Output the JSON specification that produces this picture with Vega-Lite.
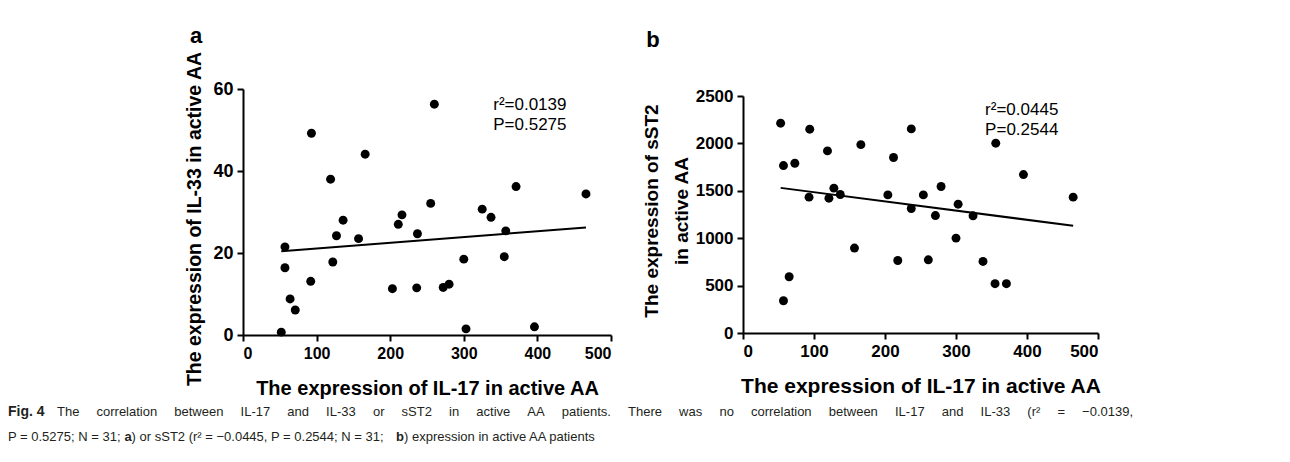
{
  "$schema": "https://vega.github.io/schema/vega-lite/v6.json",
  "background": "white",
  "padding": {"left": 8, "top": 25, "right": 5, "bottom": 5},
  "config": {
    "view": {"stroke": null},
    "font": "Liberation Sans",
    "axis": {
      "grid": false,
      "domainColor": "black",
      "domainWidth": 2,
      "tickColor": "black",
      "tickWidth": 2,
      "tickSize": 6,
      "labelPadding": 4,
      "labelColor": "black",
      "labelFont": "Liberation Sans",
      "labelFontWeight": "bold",
      "titleColor": "black",
      "titleFont": "Liberation Sans",
      "titleFontWeight": "bold"
    },
    "text": {"font": "Liberation Sans", "fontSize": 13, "color": "#231f20", "align": "left", "baseline": "middle"}
  },
  "spacing": 1,
  "vconcat": [
    {
      "spacing": 30,
      "hconcat": [
        {
          "width": 146,
          "height": 200,
          "data": {"values": []},
          "mark": {"type": "point"},
          "encoding": {}
        },
        {
          "width": 368,
          "height": 246,
          "title": {"text": "a", "anchor": "start", "fontSize": 22, "fontWeight": "bold", "offset": 3, "dx": 5, "color": "black"},
          "data": {"values": [
            {"il17": 52, "il33": 0.7}, {"il17": 57, "il33": 21.5}, {"il17": 57, "il33": 16.4},
            {"il17": 64, "il33": 8.8}, {"il17": 71, "il33": 6.1}, {"il17": 92, "il33": 13.1},
            {"il17": 93, "il33": 49.2}, {"il17": 119, "il33": 38.0}, {"il17": 122, "il33": 17.8},
            {"il17": 127, "il33": 24.2}, {"il17": 136, "il33": 28.0}, {"il17": 157, "il33": 23.5},
            {"il17": 166, "il33": 44.1}, {"il17": 203, "il33": 11.3}, {"il17": 211, "il33": 27.0},
            {"il17": 216, "il33": 29.3}, {"il17": 236, "il33": 11.5}, {"il17": 237, "il33": 24.7},
            {"il17": 255, "il33": 32.1}, {"il17": 260, "il33": 56.3}, {"il17": 272, "il33": 11.6},
            {"il17": 280, "il33": 12.4}, {"il17": 300, "il33": 18.5}, {"il17": 303, "il33": 1.5},
            {"il17": 325, "il33": 30.7}, {"il17": 337, "il33": 28.7}, {"il17": 355, "il33": 19.1},
            {"il17": 357, "il33": 25.4}, {"il17": 371, "il33": 36.2}, {"il17": 396, "il33": 2.0},
            {"il17": 466, "il33": 34.4}
          ]},
          "layer": [
            {
              "mark": {"type": "point", "filled": true, "color": "black", "opacity": 1, "size": 80},
              "encoding": {
                "x": {"field": "il17", "type": "quantitative", "scale": {"domain": [0, 500], "nice": false},
                  "axis": {"values": [0, 100, 200, 300, 400, 500], "title": "The expression of IL-17 in active AA", "titleFontSize": 20, "labelFontSize": 16, "titlePadding": 17}},
                "y": {"field": "il33", "type": "quantitative", "scale": {"domain": [0, 60], "nice": false},
                  "axis": {"values": [0, 20, 40, 60], "title": "The expression of IL-33 in active AA", "titleFontSize": 19.5, "labelFontSize": 18, "titlePadding": 8, "titleY": 129.5}}
              }
            },
            {
              "transform": [{"regression": "il33", "on": "il17"}],
              "mark": {"type": "line", "color": "black", "strokeWidth": 2},
              "encoding": {
                "x": {"field": "il17", "type": "quantitative"},
                "y": {"field": "il33", "type": "quantitative"}
              }
            },
            {
              "data": {"values": [{"label": "r²=0.0139\nP=0.5275"}]},
              "mark": {"type": "text", "align": "left", "baseline": "alphabetic", "fontSize": 17, "lineHeight": 20, "color": "black", "lineBreak": "\n"},
              "encoding": {
                "x": {"datum": 340},
                "y": {"datum": 54.8},
                "text": {"field": "label"}
              }
            }
          ]
        },
        {
          "width": 355,
          "height": 244,
          "title": {"text": "b", "anchor": "start", "fontSize": 22, "fontWeight": "bold", "offset": 35, "dx": 4, "color": "black"},
          "data": {"values": [
            {"il17": 53, "sst2": 2213}, {"il17": 57, "sst2": 1766}, {"il17": 57, "sst2": 340},
            {"il17": 65, "sst2": 593}, {"il17": 73, "sst2": 1791}, {"il17": 93, "sst2": 1433},
            {"il17": 94, "sst2": 2150}, {"il17": 119, "sst2": 1921}, {"il17": 121, "sst2": 1422},
            {"il17": 128, "sst2": 1528}, {"il17": 137, "sst2": 1461}, {"il17": 157, "sst2": 896},
            {"il17": 166, "sst2": 1987}, {"il17": 204, "sst2": 1457}, {"il17": 212, "sst2": 1851},
            {"il17": 218, "sst2": 765}, {"il17": 237, "sst2": 2153}, {"il17": 237, "sst2": 1313},
            {"il17": 254, "sst2": 1457}, {"il17": 261, "sst2": 772}, {"il17": 271, "sst2": 1239},
            {"il17": 279, "sst2": 1545}, {"il17": 300, "sst2": 1001}, {"il17": 303, "sst2": 1359},
            {"il17": 324, "sst2": 1236}, {"il17": 338, "sst2": 755}, {"il17": 355, "sst2": 520},
            {"il17": 356, "sst2": 2002}, {"il17": 371, "sst2": 520}, {"il17": 395, "sst2": 1671},
            {"il17": 465, "sst2": 1433}
          ]},
          "layer": [
            {
              "mark": {"type": "point", "filled": true, "color": "black", "opacity": 1, "size": 80},
              "encoding": {
                "x": {"field": "il17", "type": "quantitative", "scale": {"domain": [0, 500], "nice": false},
                  "axis": {"values": [0, 100, 200, 300, 400, 500], "title": "The expression of IL-17 in active AA", "titleFontSize": 21, "labelFontSize": 17, "titlePadding": 16}},
                "y": {"field": "sst2", "type": "quantitative", "scale": {"domain": [0, 2500], "nice": false, "range": [244, 7]},
                  "axis": {"values": [0, 500, 1000, 1500, 2000, 2500], "format": "d", "title": ["The expression of sST2", "in active AA"], "titleFontSize": 19, "titleLineHeight": 30, "labelFontSize": 17, "titlePadding": 4, "titleY": 121.5}}
              }
            },
            {
              "transform": [{"regression": "sst2", "on": "il17"}],
              "mark": {"type": "line", "color": "black", "strokeWidth": 2},
              "encoding": {
                "x": {"field": "il17", "type": "quantitative"},
                "y": {"field": "sst2", "type": "quantitative"}
              }
            },
            {
              "data": {"values": [{"label": "r²=0.0445\nP=0.2544"}]},
              "mark": {"type": "text", "align": "left", "baseline": "alphabetic", "fontSize": 17, "lineHeight": 20, "color": "black", "lineBreak": "\n"},
              "encoding": {
                "x": {"datum": 341},
                "y": {"datum": 2302},
                "text": {"field": "label"}
              }
            }
          ]
        }
      ]
    },
    {
      "width": 1270,
      "height": 50,
      "encoding": {
        "x": {"datum": 0, "type": "quantitative", "scale": {"domain": [0, 1]}, "axis": null},
        "text": {"field": "t"}
      },
      "layer": [
        {"data": {"values": [{"t": "Fig. 4"}]}, "mark": {"type": "text", "fontWeight": "bold", "fontSize": 14},
         "encoding": {"y": {"datum": 1.5, "type": "quantitative", "scale": {"domain": [0, 2]}, "axis": null}}},
        {"data": {"values": [{"t": "The"}]}, "mark": {"type": "text", "dx": 49}, "encoding": {"y": {"datum": 1.5, "type": "quantitative"}}},
        {"data": {"values": [{"t": "correlation"}]}, "mark": {"type": "text", "dx": 88.5}, "encoding": {"y": {"datum": 1.5, "type": "quantitative"}}},
        {"data": {"values": [{"t": "between"}]}, "mark": {"type": "text", "dx": 166.3}, "encoding": {"y": {"datum": 1.5, "type": "quantitative"}}},
        {"data": {"values": [{"t": "IL-17"}]}, "mark": {"type": "text", "dx": 232.6}, "encoding": {"y": {"datum": 1.5, "type": "quantitative"}}},
        {"data": {"values": [{"t": "and"}]}, "mark": {"type": "text", "dx": 279.3}, "encoding": {"y": {"datum": 1.5, "type": "quantitative"}}},
        {"data": {"values": [{"t": "IL-33"}]}, "mark": {"type": "text", "dx": 318.1}, "encoding": {"y": {"datum": 1.5, "type": "quantitative"}}},
        {"data": {"values": [{"t": "or"}]}, "mark": {"type": "text", "dx": 364.9}, "encoding": {"y": {"datum": 1.5, "type": "quantitative"}}},
        {"data": {"values": [{"t": "sST2"}]}, "mark": {"type": "text", "dx": 393.6}, "encoding": {"y": {"datum": 1.5, "type": "quantitative"}}},
        {"data": {"values": [{"t": "in"}]}, "mark": {"type": "text", "dx": 441.0}, "encoding": {"y": {"datum": 1.5, "type": "quantitative"}}},
        {"data": {"values": [{"t": "active"}]}, "mark": {"type": "text", "dx": 468.3}, "encoding": {"y": {"datum": 1.5, "type": "quantitative"}}},
        {"data": {"values": [{"t": "AA"}]}, "mark": {"type": "text", "dx": 519.3}, "encoding": {"y": {"datum": 1.5, "type": "quantitative"}}},
        {"data": {"values": [{"t": "patients."}]}, "mark": {"type": "text", "dx": 553.8}, "encoding": {"y": {"datum": 1.5, "type": "quantitative"}}},
        {"data": {"values": [{"t": "There"}]}, "mark": {"type": "text", "dx": 620.1}, "encoding": {"y": {"datum": 1.5, "type": "quantitative"}}},
        {"data": {"values": [{"t": "was"}]}, "mark": {"type": "text", "dx": 671.1}, "encoding": {"y": {"datum": 1.5, "type": "quantitative"}}},
        {"data": {"values": [{"t": "no"}]}, "mark": {"type": "text", "dx": 711.4}, "encoding": {"y": {"datum": 1.5, "type": "quantitative"}}},
        {"data": {"values": [{"t": "correlation"}]}, "mark": {"type": "text", "dx": 742.9}, "encoding": {"y": {"datum": 1.5, "type": "quantitative"}}},
        {"data": {"values": [{"t": "between"}]}, "mark": {"type": "text", "dx": 820.7}, "encoding": {"y": {"datum": 1.5, "type": "quantitative"}}},
        {"data": {"values": [{"t": "IL-17"}]}, "mark": {"type": "text", "dx": 887.0}, "encoding": {"y": {"datum": 1.5, "type": "quantitative"}}},
        {"data": {"values": [{"t": "and"}]}, "mark": {"type": "text", "dx": 933.8}, "encoding": {"y": {"datum": 1.5, "type": "quantitative"}}},
        {"data": {"values": [{"t": "IL-33"}]}, "mark": {"type": "text", "dx": 972.6}, "encoding": {"y": {"datum": 1.5, "type": "quantitative"}}},
        {"data": {"values": [{"t": "(r²"}]}, "mark": {"type": "text", "dx": 1019.3}, "encoding": {"y": {"datum": 1.5, "type": "quantitative"}}},
        {"data": {"values": [{"t": "="}]}, "mark": {"type": "text", "dx": 1049.4}, "encoding": {"y": {"datum": 1.5, "type": "quantitative"}}},
        {"data": {"values": [{"t": "−0.0139,"}]}, "mark": {"type": "text", "dx": 1074.1}, "encoding": {"y": {"datum": 1.5, "type": "quantitative"}}},
        {"data": {"values": [{"t": "P = 0.5275; N = 31; "}]}, "mark": {"type": "text"}, "encoding": {"y": {"datum": 0.5, "type": "quantitative"}}},
        {"data": {"values": [{"t": "a"}]}, "mark": {"type": "text", "fontWeight": "bold", "dx": 116.4}, "encoding": {"y": {"datum": 0.5, "type": "quantitative"}}},
        {"data": {"values": [{"t": ") or sST2 (r² = −0.0445, P = 0.2544; N = 31; "}]}, "mark": {"type": "text", "dx": 123.6}, "encoding": {"y": {"datum": 0.5, "type": "quantitative"}}},
        {"data": {"values": [{"t": "b"}]}, "mark": {"type": "text", "fontWeight": "bold", "dx": 388.1}, "encoding": {"y": {"datum": 0.5, "type": "quantitative"}}},
        {"data": {"values": [{"t": ") expression in active AA patients"}]}, "mark": {"type": "text", "dx": 396.0}, "encoding": {"y": {"datum": 0.5, "type": "quantitative"}}}
      ]
    }
  ]
}
